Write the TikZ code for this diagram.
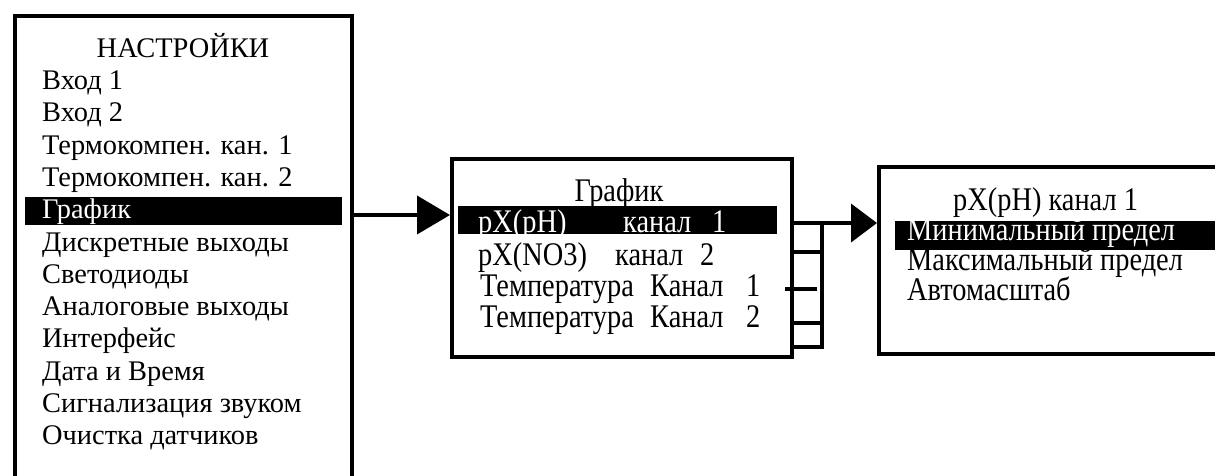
\documentclass[tikz,border=0pt]{standalone}
\usepackage{fontspec}
\setmainfont{Liberation Serif}
\newfontfamily\narrowfont[FakeStretch=0.86]{Liberation Serif}
\usetikzlibrary{arrows.meta}
\begin{document}
\begin{tikzpicture}[x=1pt,y=-1pt,
  box/.style={draw,line width=4pt,inner sep=0pt,anchor=north west,fill=white},
  item/.style={anchor=base west,inner sep=0pt,font=\fontsize{28.4}{32}\selectfont},
  ttl/.style={anchor=base,inner sep=0pt,font=\fontsize{28.4}{32}\selectfont},
  narrow/.style={font=\narrowfont\fontsize{33}{32}\selectfont},
  hl/.style={fill=black,draw=none},
  wire/.style={line width=4pt},
  arrA/.style={wire,-{Triangle[length=33pt,width=38pt]}},
  arrB/.style={wire,-{Triangle[length=26pt,width=38pt]}}
]
\useasboundingbox (0,0) rectangle (1215,475);
% boxes
\node[box,minimum width=337pt,minimum height=500pt] (lb) at (13,14) {};
\node[box,minimum width=340pt,minimum height=198pt] (mb) at (450,157) {};
\node[box,minimum width=400pt,minimum height=187pt] (rb) at (877,165) {};
% left box
\node[ttl] (t0) at (183,57) {НАСТРОЙКИ};
\path[hl] (25,197) rectangle (342,225);
\node[item] (l1) at (42,89.5) {Вход 1};
\node[item] (l2) at (42,121.8) {Вход 2};
\node[item] (l3) at (42,154.1) {Термокомпен. кан. 1};
\node[item] (l4) at (42,186.4) {Термокомпен. кан. 2};
\node[item,text=white] (l5) at (42,218.7) {График};
\node[item] (l6) at (42,251) {Дискретные выходы};
\node[item] (l7) at (42,283.3) {Светодиоды};
\node[item] (l8) at (42,315.6) {Аналоговые выходы};
\node[item] (l9) at (42,347.9) {Интерфейс};
\node[item] (l10) at (42,380.2) {Дата и Время};
\node[item] (l11) at (42,412.5) {Сигнализация звуком};
\node[item] (l12) at (42,444.8) {Очистка датчиков};
% middle box
\node[ttl,narrow] (t1) at (619,201) {График};
\path[hl] (458,206) rectangle (777,234);
\node[item,narrow,text=white] (m1) at (478,232) {\makebox[145pt][l]{pX(pH)}\makebox[89pt][l]{канал}1};
\node[item,narrow] (m2) at (478,265) {\makebox[137pt][l]{pX(NO3)}\makebox[85pt][l]{канал}2};
\node[item,narrow] (m3) at (480,296) {\makebox[170pt][l]{Температура}\makebox[96pt][l]{Канал}1};
\node[item,narrow] (m4) at (480,327) {\makebox[170pt][l]{Температура}\makebox[96pt][l]{Канал}2};
% right box
\node[item,narrow] (t2) at (953,210) {pX(pH) канал 1};
\path[hl] (895,221) rectangle (1215,250);
\node[item,narrow,text=white] (r1) at (907,240) {Минимальный предел};
\node[item,narrow] (r2) at (907,270) {Максимальный предел};
\node[item,narrow] (r3) at (907,300) {Автомасштаб};
% connectors
\coordinate (a1) at (0,215);
\coordinate (a2) at (0,223);
\coordinate (v) at (822,0);
\draw[arrA] (lb.east |- a1) -- (mb.west |- a1);
\draw[arrB] (mb.east |- a2) -- (rb.west |- a2);
\draw[wire] (v |- a2) -- (822,349);
\draw[wire] (mb.east |- 0,252) -- (v |- 0,252);
\draw[wire] (785,289) -- (817,289);
\draw[wire] (mb.east |- 0,323) -- (v |- 0,323);
\draw[wire] (mb.east |- 0,347) -- (v |- 0,347);
\end{tikzpicture}
\end{document}
